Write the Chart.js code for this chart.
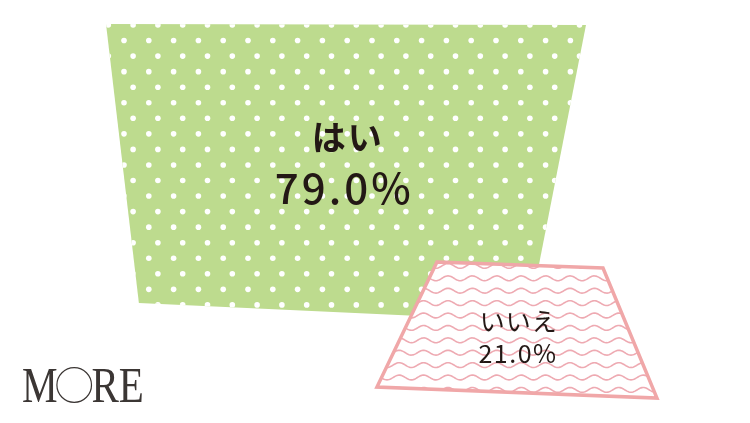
<!DOCTYPE html>
<html>
<head>
<meta charset="utf-8">
<script src="https://cdn.jsdelivr.net/npm/chart.js@4/dist/chart.umd.min.js"></script>
<style>
  html, body { margin: 0; padding: 0; background: #ffffff; }
  #wrap { width: 750px; height: 423px; position: relative; }
</style>
</head>
<body>
<div id="wrap"><canvas id="c" width="750" height="423"></canvas></div>
<script>
// ---- data ----
const categories = ['はい', 'いいえ'];
const values = [79.0, 21.0];
const valueLabels = ['79.0%', '21.0%'];

// ---- layout (not data) ----
const centersX = [339.75, 518.25];
const centersY = [168.25, 328.75];
const sizeK = 27; // radius = sizeK * sqrt(value): area proportional to value
// trapezoid corners, normalised by radius (TL, TR, BR, BL)
const shapes = [
  [[-0.974, -0.601], [1.026, -0.597], [0.784, 0.637], [-0.837, 0.562]],
  [[-0.657, -0.539], [0.685, -0.491], [1.121, 0.560], [-1.142, 0.471]]
];
const labelOffsets = [
  { cat: [7, -31], val: [3, 20] },
  { cat: [0, -7], val: [-1, 25] }
];
const fonts = [
  { cat: '700 34px "Noto Sans CJK JP"', catLS: 2, val: '500 42px "Noto Sans CJK JP"', valLS: 3 },
  { cat: '400 25px "Noto Sans CJK JP"', catLS: 1, val: '400 25px "Noto Sans CJK JP"', valLS: 1.5 }
];
const textColor = '#231815';

function tracePoly(ctx, pts) {
  ctx.beginPath();
  pts.forEach((p, i) => i ? ctx.lineTo(p[0], p[1]) : ctx.moveTo(p[0], p[1]));
  ctx.closePath();
}

function drawDots(ctx) {
  const rowH = 15.55, colW = 24.8;
  for (let i = -2; i < 30; i++) {
    const y = 25 + rowH * i;
    const x0 = (Math.abs(i) % 2 === 0) ? 108.3 : 124.0;
    for (let j = -2; j < 32; j++) {
      const x = x0 + colW * j;
      ctx.beginPath();
      ctx.arc(x, y, 2.8, 0, Math.PI * 2);
      ctx.fill();
    }
  }
}

function drawWaves(ctx) {
  const spacing = 12.4, wl = 24.4, amp = 2.4;
  for (let k = -2; k < 14; k++) {
    const y0 = 278.3 + spacing * k;
    ctx.beginPath();
    for (let x = 360; x <= 680; x += 1) {
      const y = y0 - amp * Math.cos(2 * Math.PI * (x - 448) / wl);
      x === 360 ? ctx.moveTo(x, y) : ctx.lineTo(x, y);
    }
    ctx.stroke();
  }
}

const trapezoidPlugin = {
  id: 'trapezoids',
  afterDatasetsDraw(chart) {
    const ctx = chart.ctx;
    const meta = chart.getDatasetMeta(0);
    meta.data.forEach((el, i) => {
      const r = el.options.radius;
      const pts = shapes[i].map(p => [el.x + p[0] * r, el.y + p[1] * r]);
      ctx.save();
      if (i === 0) {
        tracePoly(ctx, pts);
        ctx.fillStyle = '#bddb8e';
        ctx.fill();
        ctx.clip();
        ctx.fillStyle = '#ffffff';
        drawDots(ctx);
      } else {
        tracePoly(ctx, pts);
        ctx.fillStyle = '#ffffff';
        ctx.fill();
        ctx.save();
        ctx.clip();
        ctx.strokeStyle = '#eeaab2';
        ctx.lineWidth = 1.6;
        drawWaves(ctx);
        ctx.restore();
        tracePoly(ctx, pts);
        ctx.strokeStyle = '#f0a7a8';
        ctx.lineWidth = 3.5;
        ctx.lineJoin = 'miter';
        ctx.stroke();
      }
      ctx.restore();
    });
    // labels
    meta.data.forEach((el, i) => {
      ctx.save();
      ctx.fillStyle = textColor;
      ctx.textAlign = 'center';
      ctx.textBaseline = 'middle';
      ctx.font = fonts[i].cat;
      ctx.letterSpacing = fonts[i].catLS + 'px';
      ctx.fillText(categories[i], el.x + labelOffsets[i].cat[0] + fonts[i].catLS / 2, el.y + labelOffsets[i].cat[1]);
      ctx.font = fonts[i].val;
      ctx.letterSpacing = fonts[i].valLS + 'px';
      ctx.fillText(valueLabels[i], el.x + labelOffsets[i].val[0] + fonts[i].valLS / 2, el.y + labelOffsets[i].val[1]);
      ctx.restore();
    });
    // logo
    ctx.save();
    ctx.fillStyle = '#3b3634';
    ctx.strokeStyle = '#3b3634';
    ctx.textBaseline = 'alphabetic';
    ctx.textAlign = 'left';
    ctx.font = '400 50px "Liberation Serif"';
    ctx.save();
    ctx.translate(22, 402);
    ctx.scale(0.8, 1);
    ctx.fillText('M', 0, 0);
    ctx.restore();
    ctx.lineWidth = 1.2;
    ctx.beginPath();
    ctx.arc(74.2, 385, 17.3, 0, Math.PI * 2);
    ctx.stroke();
    ctx.save();
    ctx.translate(91.5, 402);
    ctx.scale(0.82, 1);
    ctx.fillText('RE', 0, 0);
    ctx.restore();
    ctx.restore();
  }
};

new Chart(document.getElementById('c'), {
  type: 'bubble',
  data: {
    labels: categories,
    datasets: [{
      label: '回答',
      data: values.map((v, i) => ({ x: centersX[i], y: centersY[i], r: sizeK * Math.sqrt(v) })),
      backgroundColor: 'rgba(0,0,0,0)',
      borderWidth: 0,
      hoverRadius: 0,
      hoverBorderWidth: 0
    }]
  },
  options: {
    responsive: false,
    animation: false,
    layout: { padding: 0, autoPadding: false },
    events: [],
    scales: {
      x: { type: 'linear', min: 0, max: 750, display: false },
      y: { type: 'linear', min: 0, max: 423, reverse: true, display: false }
    },
    plugins: {
      legend: { display: false },
      tooltip: { enabled: false }
    },
    clip: false
  },
  plugins: [trapezoidPlugin]
});
</script>
</body>
</html>
